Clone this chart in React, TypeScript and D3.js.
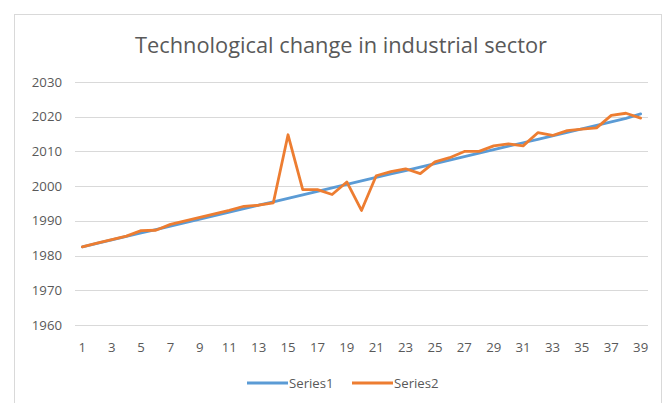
import React from "react";
import * as d3 from "d3";

const categories: number[] = Array.from({ length: 39 }, (_, i) => i + 1);

const series1: number[] = [
  1982.5, 1983.5, 1984.5, 1985.5, 1986.5, 1987.5, 1988.5, 1989.5, 1990.5, 1991.5,
  1992.5, 1993.5, 1994.5, 1995.5, 1996.5, 1997.5, 1998.5, 1999.5, 2000.5, 2001.5,
  2002.5, 2003.5, 2004.5, 2005.5, 2006.5, 2007.5, 2008.5, 2009.5, 2010.5, 2011.5,
  2012.5, 2013.5, 2014.5, 2015.5, 2016.5, 2017.5, 2018.5, 2019.5, 2020.8,
];

const series2: number[] = [
  1982.5, 1983.6, 1984.6, 1985.6, 1987.2, 1987.3, 1989, 1990, 1991, 1992,
  1993, 1994.2, 1994.5, 1995.2, 2014.8, 1999, 1999, 1997.6, 2001.2, 1993,
  2003, 2004.2, 2005, 2003.6, 2007, 2008.2, 2010, 2010, 2011.6, 2012.2,
  2011.6, 2015.4, 2014.6, 2016, 2016.4, 2016.8, 2020.4, 2021, 2019.6,
];

const yTicks: number[] = [1960, 1970, 1980, 1990, 2000, 2010, 2020, 2030];
const xTickLabels: number[] = categories.filter((c) => c % 2 === 1);

const seriesNames = ["Series1", "Series2"];
const colors = ["#5B9BD5", "#ED7D31"];

const W = 670;
const H = 403;
const plot = { left: 75, right: 648, top: 82, bottom: 325 };
const FONT = "'Open Sans', 'Liberation Sans', sans-serif";
const TEXT = "#595959";

export default function App() {
  const x = d3
    .scaleBand<number>()
    .domain(categories)
    .range([plot.left, plot.right]);
  const y = d3.scaleLinear().domain([1960, 2030]).range([plot.bottom, plot.top]);
  const cx = (c: number) => (x(c) as number) + x.bandwidth() / 2;

  const line = d3
    .line<number>()
    .x((_, i) => cx(categories[i]))
    .y((d) => y(d));

  const allSeries = [series1, series2];

  return (
    <svg
      width={W}
      height={H}
      style={{ position: "absolute", left: 0, top: 0, background: "#fff" }}
      fontFamily={FONT}
    >
      <rect x={0} y={0} width={W} height={H} fill="#fff" />
      <rect x={14.5} y={14.5} width={647} height={400} fill="#fff" stroke="#d9d9d9" strokeWidth={1} />
      <text
        x={341}
        y={53}
        textAnchor="middle"
        fontSize={21.5}
        fill={TEXT}
        textLength={412}
        lengthAdjust="spacingAndGlyphs"
      >
        Technological change in industrial sector
      </text>
      {yTicks.map((t) => (
        <g key={t}>
          <line
            x1={plot.left}
            x2={plot.right}
            y1={Math.round(y(t)) + 0.5}
            y2={Math.round(y(t)) + 0.5}
            stroke="#d9d9d9"
            strokeWidth={1}
          />
          <text x={62} y={y(t)} dy="0.35em" textAnchor="end" fontSize={13.2} fill={TEXT}>
            {t}
          </text>
        </g>
      ))}
      {xTickLabels.map((c) => (
        <text key={c} x={cx(c)} y={347} dy="0.35em" textAnchor="middle" fontSize={13.2} fill={TEXT}>
          {c}
        </text>
      ))}
      {allSeries.map((s, i) => (
        <path
          key={i}
          d={line(s) || ""}
          fill="none"
          stroke={colors[i]}
          strokeWidth={2.8}
          strokeLinejoin="round"
          strokeLinecap="round"
        />
      ))}
      {seriesNames.map((n, i) => {
        const lx = 247 + i * 105;
        return (
          <g key={n}>
            <line x1={lx} x2={lx + 41} y1={383} y2={383} stroke={colors[i]} strokeWidth={2.8} />
            <text x={lx + 42} y={383} dy="0.35em" fontSize={13.2} fill={TEXT}>
              {n}
            </text>
          </g>
        );
      })}
    </svg>
  );
}
